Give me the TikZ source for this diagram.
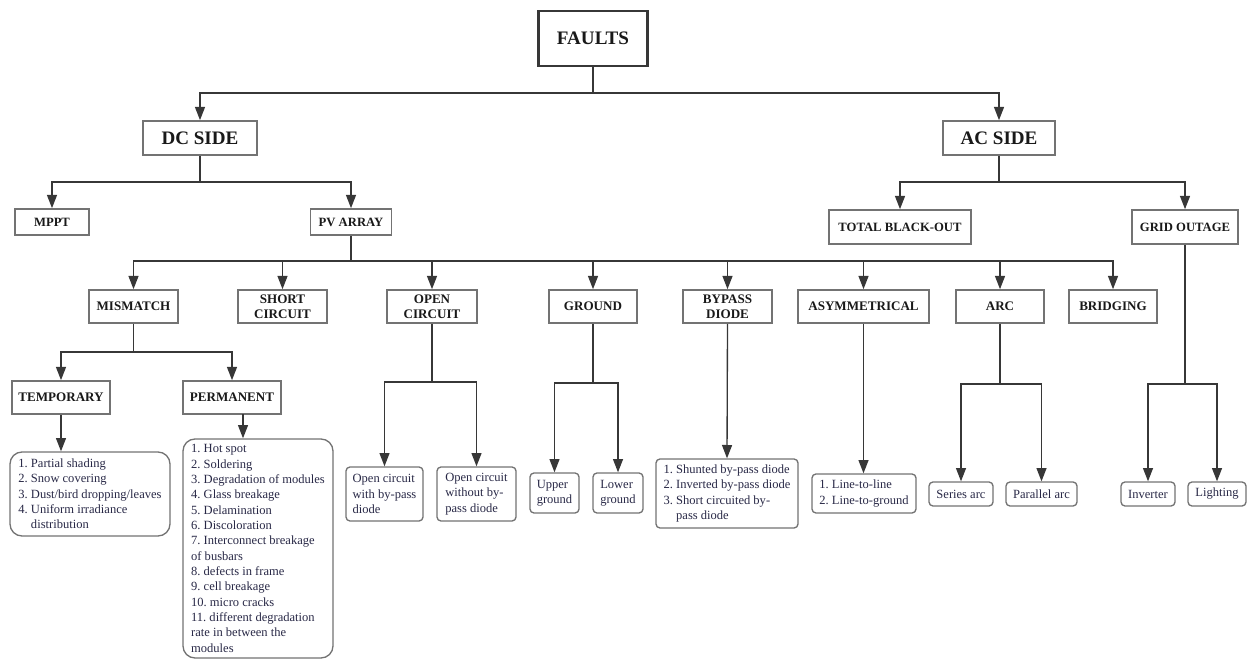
\documentclass[tikz,border=0pt]{standalone}
\usepackage{fontspec}
\setmainfont{Liberation Serif}
\usetikzlibrary{arrows.meta}
\frenchspacing

\definecolor{linec}{RGB}{55,55,55}
\definecolor{boxc}{RGB}{115,115,115}
\definecolor{topc}{RGB}{55,55,55}
\definecolor{leaftext}{RGB}{40,40,70}

\tikzset{
  conn/.style={draw=linec, line width=1pt},
  arr/.style={conn, -{Triangle[length=10pt,width=7.5pt]}},
  sz/.style 2 args={minimum width=#1*0.75pt, minimum height=#2*0.75pt},
  headbox/.style={draw=boxc, line width=1.2pt, fill=white, inner sep=1pt,
    align=center, text=black!90, font=\bfseries\fontsize{9.5}{11.25}\selectfont},
  bigbox/.style={headbox, font=\bfseries\fontsize{14.3}{16}\selectfont},
  rootbox/.style={bigbox, draw=topc, line width=2pt},
  catbox/.style={headbox, font=\bfseries\fontsize{9.8}{11.25}\selectfont},
  leafbox/.style={draw=boxc, line width=1pt, fill=white, rounded corners=3pt,
    inner xsep=3pt, inner ysep=1pt, align=left, text=leaftext,
    font=\fontsize{9.4}{11.5}\selectfont},
  listbox/.style={leafbox, rounded corners=9pt}
}

\begin{document}
\begin{tikzpicture}[x=0.75pt, y=-0.75pt]
\useasboundingbox (0,0) rectangle (1252,659);

% top levels
\node[rootbox, sz={109}{55}] (faults) at (593,38.5) {FAULTS};
\node[bigbox, sz={114}{34}] (dc) at (200,138) {DC SIDE};
\node[bigbox, sz={112}{34}] (ac) at (999,138) {AC SIDE};

\node[headbox, sz={74}{26}] (mppt) at (52,222) {MPPT};
\node[headbox, sz={81}{26}] (pv) at (351,222) {PV ARRAY};
\node[headbox, sz={142}{34}] (tbo) at (900,227) {TOTAL BLACK-OUT};
\node[headbox, sz={106}{34}] (grid) at (1185,227) {GRID OUTAGE};

% fault categories
\node[catbox, sz={89}{33}] (mismatch) at (133.5,306.5) {MISMATCH};
\node[catbox, sz={89}{33}] (short) at (282.5,306.5) {SHORT\\CIRCUIT};
\node[catbox, sz={90}{33}] (open) at (432,306.5) {OPEN\\CIRCUIT};
\node[catbox, sz={88}{33}] (ground) at (593,306.5) {GROUND};
\node[catbox, sz={89}{33}] (bypass) at (727.5,306.5) {BYPASS\\DIODE};
\node[catbox, sz={131}{33}] (asym) at (863.5,306.5) {ASYMMETRICAL};
\node[catbox, sz={88}{33}] (arc) at (1000,306.5) {ARC};
\node[catbox, sz={88}{33}] (bridging) at (1113,306.5) {BRIDGING};

\node[catbox, sz={98}{33}] (temporary) at (61,397.5) {TEMPORARY};
\node[catbox, sz={98}{33}] (permanent) at (232,397.5) {PERMANENT};

% detail boxes
\node[listbox, sz={160}{84}] (templeaf) at (90,494)
  {1. Partial shading\\2. Snow covering\\3. Dust/bird dropping/leaves\\4. Uniform irradiance\\\phantom{4. }distribution};
\node[listbox, sz={150}{219}] (permleaf) at (258,548.5)
  {1. Hot spot\\2. Soldering\\3. Degradation of modules\\4. Glass breakage\\5. Delamination\\6. Discoloration\\7. Interconnect breakage\\of busbars\\8. defects in frame\\9. cell breakage\\10. micro cracks\\11. different degradation\\rate in between the\\modules};
\node[leafbox, sz={77}{54}] (ocw) at (384.5,494) {Open circuit\\with by-pass\\diode};
\node[leafbox, sz={79}{54}] (ocwo) at (476.5,494) {Open circuit\\without by-\\pass diode};
\node[leafbox, sz={49}{40}] (upper) at (554.5,493) {Upper\\ground};
\node[leafbox, sz={50}{40}] (lower) at (618,493) {Lower\\ground};
\node[leafbox, sz={142}{69}] (bpleaf) at (727,493.5)
  {1. Shunted by-pass diode\\2. Inverted by-pass diode\\3. Short circuited by-\\\phantom{3. }pass diode};
\node[leafbox, sz={104}{39}] (lineleaf) at (864,493.5) {1. Line-to-line\\2. Line-to-ground};
\node[leafbox, sz={64}{24}] (series) at (961,494) {Series arc};
\node[leafbox, sz={71}{24}] (parallel) at (1041.5,494) {Parallel arc};
\node[leafbox, sz={54}{24}] (inverter) at (1148,494) {Inverter};
\node[leafbox, sz={58}{24}] (lighting) at (1217,494) {Lighting};

% branch points
\coordinate (jroot) at (593,93);
\coordinate (jdc) at (200,182);
\coordinate (jac) at (999,182);
\coordinate (jpv) at (351,261);
\coordinate (jmis) at (133.5,352);
\coordinate (jopen) at (432,382);
\coordinate (jground) at (593,383);
\coordinate (jarc) at (1000,384);
\coordinate (jgrid) at (1185,384);
\coordinate (jperm) at (243,414);

% connectors
\draw[conn] (faults.south) -- (jroot);
\draw[arr] (jroot) -| (dc.north);
\draw[arr] (jroot) -| (ac.north);

\draw[conn] (dc.south) -- (jdc);
\draw[arr] (jdc) -| (mppt.north);
\draw[arr] (jdc) -| (pv.north);

\draw[conn] (ac.south) -- (jac);
\draw[arr] (jac) -| (tbo.north);
\draw[arr] (jac) -| (grid.north);

\draw[conn] (pv.south) -- (jpv);
\foreach \n in {mismatch,short,open,ground,bypass,asym,arc,bridging}
  \draw[arr] (jpv) -| (\n.north);

\draw[conn] (mismatch.south) -- (jmis);
\draw[arr] (jmis) -| (temporary.north);
\draw[arr] (jmis) -| (permanent.north);
\draw[arr] (temporary.south) -- (temporary.south |- templeaf.north);
\draw[arr] (jperm) -- (jperm |- permleaf.north);

\draw[conn] (open.south) -- (jopen);
\draw[arr] (jopen) -| (ocw.north);
\draw[arr] (jopen) -| (ocwo.north);

\draw[conn] (ground.south) -- (jground);
\draw[arr] (jground) -| (upper.north);
\draw[arr] (jground) -| (lower.north);

\draw[arr] (bypass.south) -- (bpleaf.north);
\draw[arr] (asym.south) -- (asym.south |- lineleaf.north);

\draw[conn] (arc.south) -- (jarc);
\draw[arr] (jarc) -| (series.north);
\draw[arr] (jarc) -| (parallel.north);

\draw[conn] (grid.south) -- (jgrid);
\draw[arr] (jgrid) -| (inverter.north);
\draw[arr] (jgrid) -| (lighting.north);
\end{tikzpicture}
\end{document}
